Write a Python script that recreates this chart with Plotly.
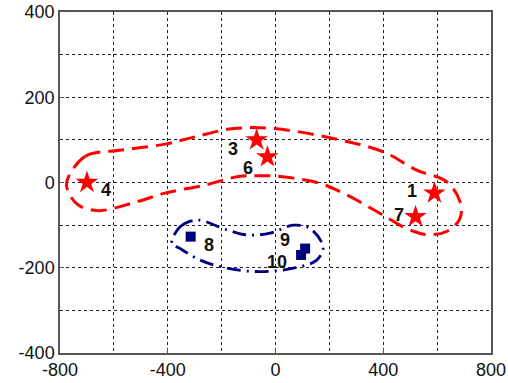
import plotly.graph_objects as go

# Group A samples (stars)
a_ids = ["1", "3", "4", "6", "7"]
a_x = [590, -70, -700, -30, 520]
a_y = [-25, 100, 0, 60, -80]

# Group B samples (squares)
b_ids = ["8", "9", "10"]
b_x = [-315, 110, 95]
b_y = [-127, -155, -170]

# Boundary of group A (closed contour)
ring_a_x = [-775, -707, -571, -410, -299, -163, -14, 202, 400, 524, 635, 685, 685, 635, 561,
            487, 376, 264, 165, 17, -70, -138, -262, -410, -534, -658, -732, -769, -775]
ring_a_y = [2, 61, 76, 90, 107, 126, 127, 105, 72, 29, 2, -45, -84, -115, -122,
            -108, -68, -29, -2, 14, 16, 14, -6, -25, -49, -66, -53, -22, 2]

# Boundary of group B (closed contour)
ring_b_x = [-385, -354, -292, -181, -107, -20, 66, 128, 177, 153, 66, -58, -181, -280, -354, -385]
ring_b_y = [-143, -104, -88, -111, -123, -119, -100, -108, -151, -182, -201, -209, -201, -182, -155, -143]

# Axis ticks
x_ticks = [-800, -400, 0, 400, 800]
y_ticks = [-400, -200, 0, 200, 400]

# Label offsets in pixels relative to each marker
a_shift = {"1": (-22, 2), "3": (-24, -9), "4": (19, -7), "6": (-19, -11), "7": (-17, 2)}
b_shift = {"8": (18, -8), "9": (-20, 9), "10": (-24, -7)}

RED = "#ff0000"
NAVY = "#000080"
FONT = "Liberation Sans, Arial, sans-serif"

fig = go.Figure()
fig.add_trace(go.Scatter(x=ring_a_x, y=ring_a_y, mode="lines",
                         line=dict(color=RED, width=3, dash="16px,8px", shape="spline", smoothing=1.0),
                         hoverinfo="skip", showlegend=False))
fig.add_trace(go.Scatter(x=ring_b_x, y=ring_b_y, mode="lines",
                         line=dict(color=NAVY, width=2.8, dash="14px,6px,2px,6px", shape="spline", smoothing=1.0),
                         hoverinfo="skip", showlegend=False))
fig.add_trace(go.Scatter(x=a_x, y=a_y, mode="markers",
                         marker=dict(symbol="star", size=17, color=RED, line=dict(width=0)),
                         showlegend=False))
fig.add_trace(go.Scatter(x=b_x, y=b_y, mode="markers",
                         marker=dict(symbol="square", size=10, color=NAVY, line=dict(width=0)),
                         showlegend=False))

label_font = dict(family=FONT, size=18, color="#111111")
for ids, xs, ys, shifts in [(a_ids, a_x, a_y, a_shift), (b_ids, b_x, b_y, b_shift)]:
    for i, xv, yv in zip(ids, xs, ys):
        dx, dy = shifts[i]
        fig.add_annotation(x=xv, y=yv, text="<b>%s</b>" % i, showarrow=False,
                           xshift=dx, yshift=dy, font=label_font)

grid = dict(showgrid=True, gridcolor="#222222", griddash="dot", gridwidth=1)
axis_common = dict(
    showline=True, mirror=True, linecolor="#555555", linewidth=1.5,
    zeroline=False, ticks="inside", ticklen=4, tickcolor="#555555",
    automargin=False,
    tickfont=dict(family=FONT, size=18, color="#111111"),
    **grid,
)

fig.update_layout(
    width=508, height=383,
    margin=dict(l=60, r=17, t=12, b=30),
    paper_bgcolor="white", plot_bgcolor="white",
    xaxis=dict(range=[-800, 800], tickvals=x_ticks, ticktext=[str(v) for v in x_ticks],
               minor=dict(dtick=200, tick0=-800, **grid), **axis_common),
    yaxis=dict(range=[-400, 400], tickvals=y_ticks, ticktext=[str(v) for v in y_ticks],
               minor=dict(dtick=100, tick0=-400, **grid), **axis_common),
)

fig.write_html("out.html")
